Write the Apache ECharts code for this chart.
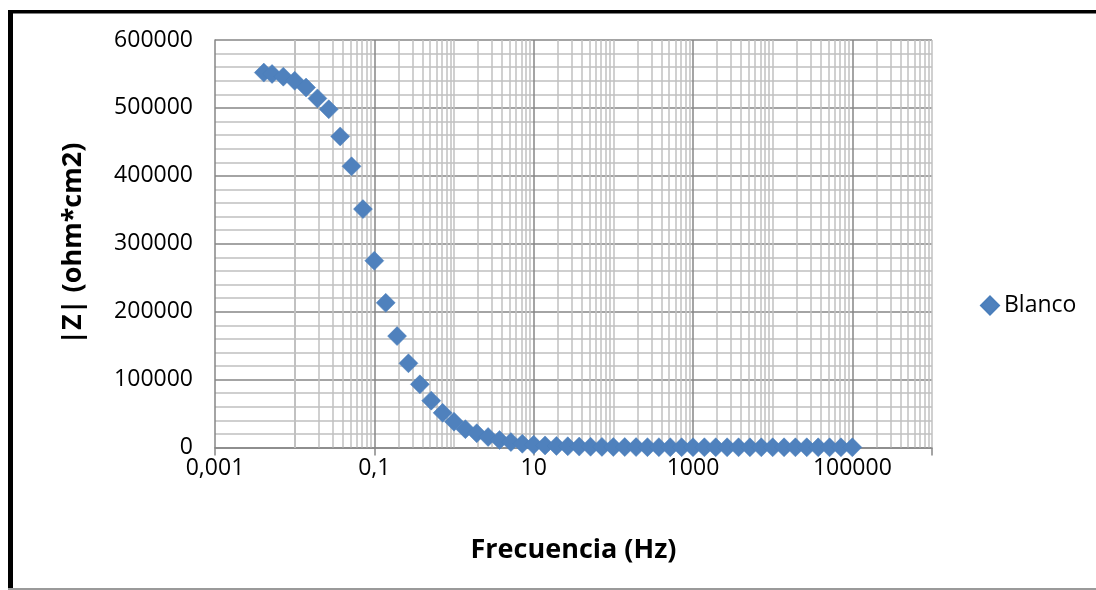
<!DOCTYPE html>
<html>
<head>
<meta charset="utf-8">
<script src="https://cdn.jsdelivr.net/npm/echarts@6/dist/echarts.min.js"></script>
<style>
html,body{margin:0;padding:0;background:#fff;}
#chart{width:1096px;height:590px;}
</style>
</head>
<body>
<div id="chart"></div>
<script>
// Frequencies (Hz), low to high
const frequencies = [0.0041, 0.0052, 0.0072, 0.01, 0.0139, 0.0193, 0.0268, 0.0373, 0.0518, 0.072,
  0.1, 0.139, 0.193, 0.268, 0.373, 0.518, 0.72,
  1, 1.39, 1.93, 2.68, 3.73, 5.18, 7.2,
  10, 13.9, 19.3, 26.8, 37.3, 51.8, 72,
  100, 139, 193, 268, 373, 518, 720,
  1000, 1390, 1930, 2680, 3730, 5180, 7200,
  10000, 13900, 19300, 26800, 37300, 51800, 72000,
  100000];
// |Z| (ohm*cm2) for series "Blanco"
const blanco = [552000, 550000, 546000, 540000, 530000, 514000, 498000, 458000, 414000, 351000,
  275000, 213000, 164000, 124000, 93000, 69000, 51000,
  38000, 27000, 21000, 15500, 11000, 8000, 5500,
  4000, 3000, 2300, 1800, 1400, 1100, 900,
  750, 640, 560, 500, 450, 410, 380,
  360, 340, 330, 320, 310, 300, 295,
  290, 285, 280, 278, 276, 274, 272,
  270];
const seriesName = 'Blanco';
const xTickValues = [0.001, 0.1, 10, 1000, 100000];
const xTickLabels = ['0,001', '0,1', '10', '1000', '100000'];
const yTickValues = [0, 100000, 200000, 300000, 400000, 500000, 600000];
const yTickLabels = ['0', '100000', '200000', '300000', '400000', '500000', '600000'];
const xTitle = 'Frecuencia (Hz)';
const yTitle = '|Z| (ohm*cm2)';

const FONT = 'Open Sans';
const COLOR = '#4f81bd';
const MAJOR = '#868686';
const MINOR = '#c0c0c0';

// vertical gridlines (log minor lines)
const minorX = [];
const majorX = [];
for (let e = -3; e <= 5; e++) {
  const base = Math.pow(10, e);
  const isMajor = ((e + 3) % 2 === 0);
  if (isMajor) majorX.push(+base.toPrecision(6)); else minorX.push(+base.toPrecision(6));
  for (let m = 2; m <= 9; m++) minorX.push(+(m * base).toPrecision(6));
}
minorX.push(1000000);

const data = frequencies.map((f, i) => [f, blanco[i]]);

function fmtX(v) {
  const e = Math.round(Math.log10(v));
  for (let i = 0; i < xTickValues.length; i++) {
    if (Math.round(Math.log10(xTickValues[i])) === e) return xTickLabels[i];
  }
  return '';
}
function fmtY(v) {
  const i = yTickValues.indexOf(Math.round(v));
  return i >= 0 ? yTickLabels[i] : '';
}

const chart = echarts.init(document.getElementById('chart'), null, {renderer: 'canvas'});
chart.setOption({
  animation: false,
  backgroundColor: '#fff',
  grid: {left: 215, top: 40, right: 164, bottom: 142.5, containLabel: false},
  legend: {
    show: true,
    left: 975, top: 289,
    orient: 'vertical',
    icon: 'diamond',
    itemWidth: 18, itemHeight: 18, itemGap: 6,
    textStyle: {fontFamily: FONT, fontSize: 23, color: '#000'},
    data: [seriesName]
  },
  xAxis: {
    type: 'log', logBase: 10, min: 0.001, max: 1000000,
    interval: 2,
    name: xTitle, nameLocation: 'middle', nameGap: 89,
    nameTextStyle: {fontFamily: FONT, fontSize: 27, fontWeight: 'bold', color: '#000'},
    axisLine: {show: true, lineStyle: {color: MAJOR, width: 1.5}},
    axisTick: {show: true, length: 8, lineStyle: {color: MAJOR, width: 1.5}},
    axisLabel: {fontFamily: FONT, fontSize: 23, color: '#000', margin: 9, formatter: fmtX},
    splitLine: {show: false}
  },
  yAxis: {
    type: 'value', min: 0, max: 600000, interval: 100000,
    name: yTitle, nameLocation: 'middle', nameGap: 128, nameRotate: 90,
    nameTextStyle: {fontFamily: FONT, fontSize: 27, fontWeight: 'bold', color: '#000'},
    axisLine: {show: true, lineStyle: {color: MAJOR, width: 1.5}},
    axisTick: {show: false},
    axisLabel: {fontFamily: FONT, fontSize: 23, color: '#000', margin: 22, formatter: fmtY},
    splitLine: {show: true, lineStyle: {color: MAJOR, width: 1.5}},
    minorTick: {show: false, splitNumber: 5},
    minorSplitLine: {show: true, lineStyle: {color: MINOR, width: 1.5}}
  },
  series: [
    {
      type: 'scatter', name: '_grid', data: [], silent: true, z: 1,
      markLine: {
        silent: true, symbol: 'none', animation: false,
        label: {show: false},
        data: minorX.map(v => ({xAxis: v, lineStyle: {color: MINOR, width: 1.5, type: 'solid'}}))
          .concat(majorX.map(v => ({xAxis: v, lineStyle: {color: MAJOR, width: 1.5, type: 'solid'}})))
      }
    },
    {
      type: 'scatter', name: seriesName, data: data, z: 5,
      symbol: 'diamond', symbolSize: 19,
      itemStyle: {color: COLOR, borderColor: '#4a7ebb', borderWidth: 0.5, opacity: 1}
    }
  ],
  graphic: [
    {type: 'rect', shape: {x: 8, y: 10, width: 1088, height: 3.5}, style: {fill: '#000'}},
    {type: 'rect', shape: {x: 8, y: 10, width: 5, height: 580}, style: {fill: '#000'}},
    {type: 'rect', shape: {x: 8, y: 588, width: 1088, height: 2}, style: {fill: '#9a9a9a'}}
  ]
});
</script>
</body>
</html>
